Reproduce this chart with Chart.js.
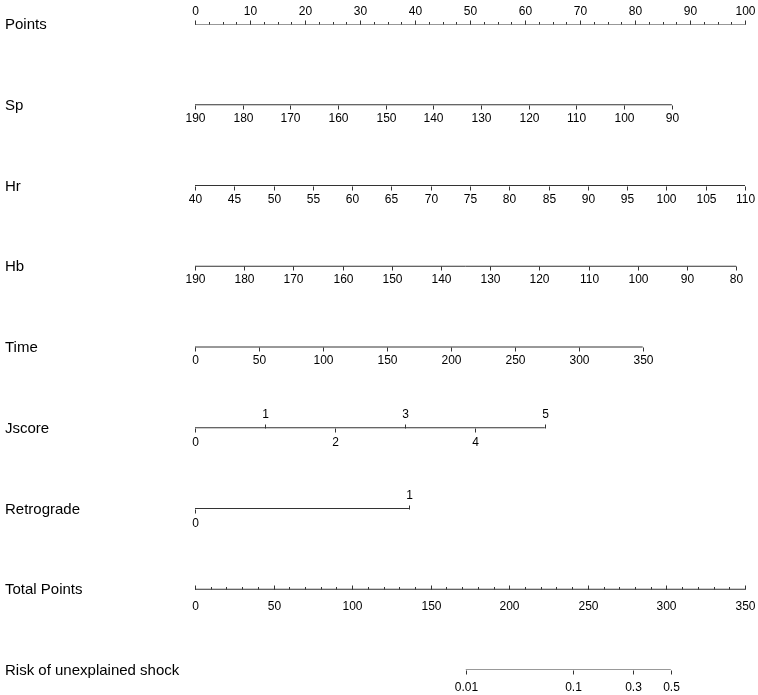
<!DOCTYPE html>
<html>
<head>
<meta charset="utf-8">
<title>Nomogram</title>
<script src="https://cdn.jsdelivr.net/npm/chart.js@4.4.0/dist/chart.umd.min.js"></script>
<style>
  body { margin: 0; background: #fff; }
  #wrap { width: 758px; height: 695px; }
</style>
</head>
<body>
<div id="wrap"><canvas id="nomogram"></canvas></div>
<script>
// rows of the nomogram, top to bottom
const rowLabels = ['Points', 'Sp', 'Hr', 'Hb', 'Time', 'Jscore', 'Retrograde', 'Total Points', 'Risk of unexplained shock'];

// tick values of each axis
const pointsTicks = [0, 10, 20, 30, 40, 50, 60, 70, 80, 90, 100];
const spTicks = [190, 180, 170, 160, 150, 140, 130, 120, 110, 100, 90];
const hrTicks = [40, 45, 50, 55, 60, 65, 70, 75, 80, 85, 90, 95, 100, 105, 110];
const hbTicks = [190, 180, 170, 160, 150, 140, 130, 120, 110, 100, 90, 80];
const timeTicks = [0, 50, 100, 150, 200, 250, 300, 350];
const jscoreTicks = [0, 1, 2, 3, 4, 5];
const retrogradeTicks = [0, 1];
const totalTicks = [0, 50, 100, 150, 200, 250, 300, 350];
const riskTicks = [0.01, 0.1, 0.3, 0.5];
// where each risk value sits on the total points scale
const riskTotalPoints = [172.3, 240.4, 279.0, 302.8];

// points given to the last tick of each predictor (first tick = 0 points)
const spMaxPoints = 86.7;
const hrMaxPoints = 100;
const hbMaxPoints = 98.4;
const timeMaxPoints = 81.4;
const jscoreMaxPoints = 63.6;
const retrogradeMaxPoints = 38.9;

// a hidden x scale per predictor, stretched so its ticks line up with the points axis
function rowScale(ticks, maxPts) {
    const first = ticks[0], last = ticks[ticks.length - 1];
    const edge = first + (last - first) * 100 / maxPts;
    return {
        type: 'linear', display: false, bounds: 'data',
        min: Math.min(first, edge), max: Math.max(first, edge),
        reverse: last < first
    };
}

const upDown = (v, i) => (i % 2 ? 'up' : 'down');

const rows = [
    { scale: 'xPoints', ticks: pointsTicks, tick: 'up', label: 'up', gap: 13, minor: 2.5 },
    { scale: 'xSp', ticks: spTicks, tick: 'down', label: 'down', gap: 13.5 },
    { scale: 'xHr', ticks: hrTicks, tick: 'down', label: 'down', gap: 13.5 },
    { scale: 'xHb', ticks: hbTicks, tick: 'down', label: 'down', gap: 13.5 },
    { scale: 'xTime', ticks: timeTicks, tick: 'down', label: 'down', gap: 13.5 },
    { scale: 'xJscore', ticks: jscoreTicks, tick: upDown, label: upDown, gap: 14 },
    { scale: 'xRetro', ticks: retrogradeTicks, tick: upDown, label: upDown, gap: 14 },
    { scale: 'xTotal', ticks: totalTicks, tick: 'up', label: 'down', gap: 17, minor: 10 },
    { scale: 'xTotal', ticks: riskTotalPoints, labels: riskTicks, tick: 'down', label: 'down', gap: 17 }
];

const lineColor = '#333';
const font = '"Liberation Sans", Arial, sans-serif';

const nomogramAxes = {
    id: 'nomogramAxes',
    afterDatasetsDraw(chart) {
        const ctx = chart.ctx;
        const yScale = chart.scales.y;
        ctx.save();
        ctx.fillStyle = '#000';
        ctx.textBaseline = 'middle';

        ctx.font = '15px ' + font;
        ctx.textAlign = 'left';
        rowLabels.forEach((lab, i) => ctx.fillText(lab, 5, yScale.getPixelForValue(i) + 1));

        ctx.font = '12px ' + font;
        ctx.textAlign = 'center';
        ctx.strokeStyle = lineColor;
        ctx.lineWidth = 1;
        rows.forEach((row, r) => {
            const sc = chart.scales[row.scale];
            const y = Math.round(yScale.getPixelForValue(r)) + 0.5;
            if (row.minor) {
                const lo = row.ticks[0], hi = row.ticks[row.ticks.length - 1];
                ctx.beginPath();
                for (let v = lo; v <= hi + 1e-9; v += row.minor) {
                    const x = Math.round(sc.getPixelForValue(v)) + 0.5;
                    ctx.moveTo(x, y);
                    ctx.lineTo(x, y - 2.5);
                }
                ctx.stroke();
            }
            row.ticks.forEach((v, i) => {
                const x = Math.round(sc.getPixelForValue(v)) + 0.5;
                const tDir = typeof row.tick === 'function' ? row.tick(v, i) : row.tick;
                const lDir = typeof row.label === 'function' ? row.label(v, i) : row.label;
                ctx.beginPath();
                ctx.moveTo(x, y);
                ctx.lineTo(x, tDir === 'up' ? y - 4 : y + 4);
                ctx.stroke();
                const txt = String(row.labels ? row.labels[i] : v);
                ctx.fillText(txt, x, lDir === 'up' ? y - row.gap : y + row.gap);
            });
        });
        ctx.restore();
    }
};

// one horizontal line per row, from first to last tick
const datasets = rows.map((row, r) => ({
    data: [
        { x: row.ticks[0], y: r },
        { x: row.ticks[row.ticks.length - 1], y: r }
    ],
    xAxisID: row.scale,
    yAxisID: 'y',
    showLine: true,
    borderColor: lineColor,
    borderWidth: 1,
    pointRadius: 0
}));

new Chart(document.getElementById('nomogram'), {
    type: 'scatter',
    data: { datasets: datasets },
    options: {
        responsive: true,
        maintainAspectRatio: false,
        animation: false,
        layout: { padding: { left: 195, right: 13, top: 24, bottom: 25 } },
        plugins: { legend: { display: false }, tooltip: { enabled: false } },
        scales: {
            xPoints: { type: 'linear', display: false, bounds: 'data', min: 0, max: 100 },
            xSp: rowScale(spTicks, spMaxPoints),
            xHr: rowScale(hrTicks, hrMaxPoints),
            xHb: rowScale(hbTicks, hbMaxPoints),
            xTime: rowScale(timeTicks, timeMaxPoints),
            xJscore: rowScale(jscoreTicks, jscoreMaxPoints),
            xRetro: rowScale(retrogradeTicks, retrogradeMaxPoints),
            xTotal: { type: 'linear', display: false, bounds: 'data', min: 0, max: 350 },
            y: { type: 'linear', display: false, min: 0, max: 8, reverse: true }
        }
    },
    plugins: [nomogramAxes]
});
</script>
</body>
</html>
